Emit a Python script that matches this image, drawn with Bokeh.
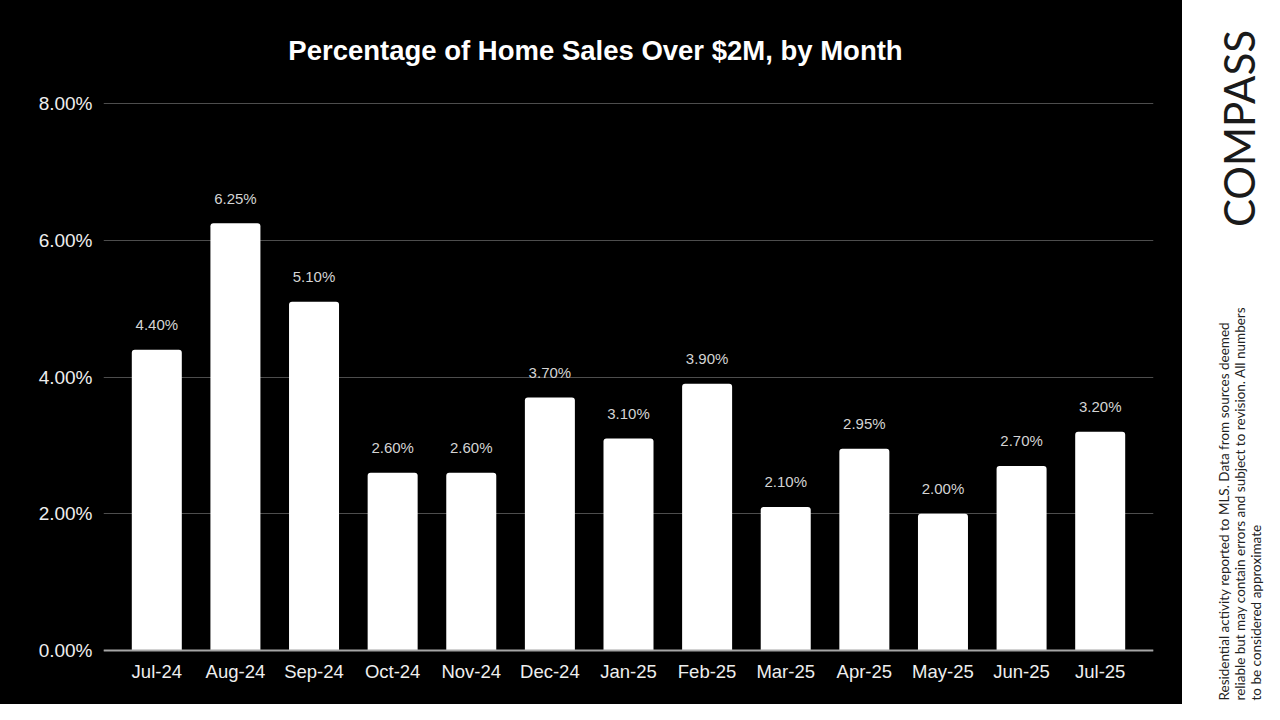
import math
from bokeh.plotting import figure
from bokeh.models import FactorRange, Range1d, FixedTicker, NumeralTickFormatter, Label, Span, ColumnDataSource
from bokeh.layouts import row
from bokeh.embed import file_html
from bokeh.resources import INLINE
from bokeh.core.properties import value

# ---- data ----
months = ["Jul-24", "Aug-24", "Sep-24", "Oct-24", "Nov-24", "Dec-24", "Jan-25",
          "Feb-25", "Mar-25", "Apr-25", "May-25", "Jun-25", "Jul-25"]
pct_values = [4.40, 6.25, 5.10, 2.60, 2.60, 3.70, 3.10, 3.90, 2.10, 2.95, 2.00, 2.70, 3.20]
y_ticks = [0.0, 0.02, 0.04, 0.06, 0.08]
title_text = "Percentage of Home Sales Over $2M, by Month"
logo_text = "COMPASS"
disclaimer_lines = [
    "Residential activity reported to MLS. Data from sources deemed",
    "reliable but may contain errors and subject to revision. All numbers",
    "to be considered approximate",
]

fractions = [v / 100.0 for v in pct_values]
label_texts = [f"{v:.2f}%" for v in pct_values]
src = ColumnDataSource(dict(month=months, top=fractions, lbl=label_texts))

FONT = "Liberation Sans"
H = 704
W_MAIN = 1182
W_SIDE = 82

# vertical layout: value axis 0..max spans pixel rows 650 (zero) .. 103 (top)
y_max = y_ticks[-1]
px_per_unit = (650 - 103) / y_max
y_range = Range1d(-(H - 650) / px_per_unit, y_max + 103 / px_per_unit)

p = figure(
    width=W_MAIN, height=H, output_backend="svg", toolbar_location=None,
    x_range=FactorRange(factors=months, range_padding=0.178, range_padding_units="absolute"),
    y_range=y_range,
    background_fill_color=None, border_fill_color=None,
    styles={"background-color": "black"},
    min_border_left=103, min_border_right=W_MAIN - 1153, min_border_top=0, min_border_bottom=0,
)
p.outline_line_color = None
p.title.visible = False

p.xgrid.grid_line_color = None
p.ygrid.grid_line_color = "#4d4d4d"
p.ygrid.grid_line_width = 1
p.yaxis.ticker = FixedTicker(ticks=y_ticks)
p.ygrid.ticker = FixedTicker(ticks=y_ticks)
p.yaxis.formatter = NumeralTickFormatter(format="0.00%")

for ax in (p.xaxis[0], p.yaxis[0]):
    ax.axis_line_color = None
    ax.major_tick_line_color = None
    ax.minor_tick_line_color = None
    ax.major_tick_out = 0
    ax.major_tick_in = 0
    ax.minor_tick_out = 0
    ax.major_label_text_font = FONT
    ax.major_label_text_color = "#eeeeee"
p.yaxis.major_label_text_font_size = "19px"
p.xaxis.major_label_text_font_size = "18.5px"
p.yaxis.major_label_standoff = 11
p.xaxis.major_label_standoff = 10
p.xaxis.fixed_location = 0

p.vbar(x="month", top="top", width=0.636, source=src, fill_color="white",
       line_color=None, border_radius=(3, 3, 0, 0))

p.add_layout(Span(location=0, dimension="width", line_color="#a6a6a6", line_width=2))

p.text(x="month", y="top", text="lbl", source=src, text_align="center",
       text_baseline="alphabetic", y_offset=-25, text_font=value(FONT),
       text_font_size="15px", text_color="#d4d4d4")

p.add_layout(Label(x=595 - 103, y=H - 50, x_units="screen", y_units="screen", text=title_text,
                   text_align="center", text_baseline="alphabetic", text_font=FONT,
                   text_font_size="27.5px", text_font_style="bold", text_color="white"))

# ---- right strip ----
q = figure(
    width=W_SIDE, height=H, output_backend="svg", toolbar_location=None,
    x_range=Range1d(0, W_SIDE), y_range=Range1d(0, H),
    background_fill_color="white", border_fill_color="white",
    min_border=0, min_border_left=0, min_border_right=0, min_border_top=0, min_border_bottom=0,
)
q.outline_line_color = None
q.axis.visible = False
q.grid.visible = False
q.title.visible = False

q.add_layout(Label(x=56, y=H - 128, x_units="screen", y_units="screen", text=logo_text,
                   angle=math.pi / 2, text_align="center", text_baseline="middle",
                   text_font="Lato", text_font_size="42px", text_color="#1a1a1a"))

for i, line in enumerate(disclaimer_lines):
    q.add_layout(Label(x=41 + 16 * i, y=4, x_units="screen", y_units="screen", text=line,
                       angle=math.pi / 2, text_align="left", text_baseline="middle",
                       text_font="Lato", text_font_size="13.5px", text_color="#222222"))

layout = row(p, q, spacing=0)
open("out.html", "w").write(file_html(layout, INLINE))
